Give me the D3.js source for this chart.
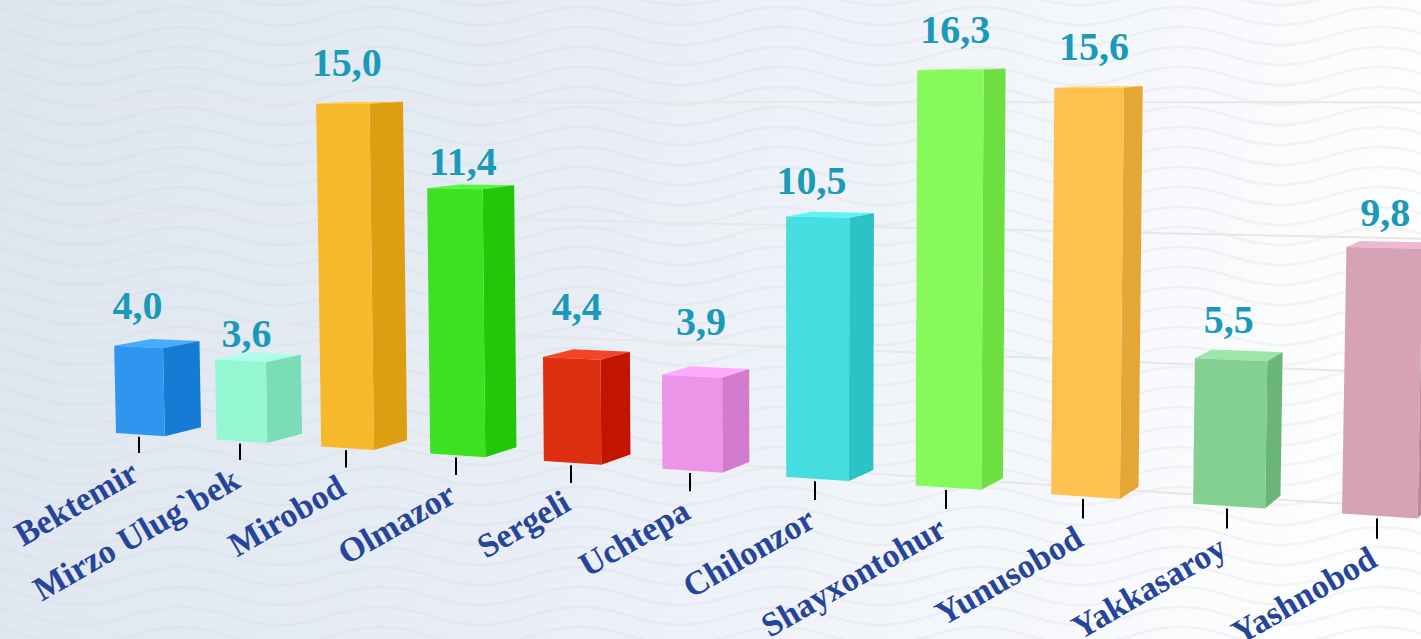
<!DOCTYPE html>
<html>
<head>
<meta charset="utf-8">
<script src="https://cdn.jsdelivr.net/npm/d3@7"></script>
<style>
  html, body { margin: 0; padding: 0; overflow: hidden; }
  svg { display: block; }
</style>
</head>
<body>
<script>
'use strict';

const categories = ["Bektemir", "Mirzo Ulug`bek", "Mirobod", "Olmazor", "Sergeli", "Uchtepa",
  "Chilonzor", "Shayxontohur", "Yunusobod", "Yakkasaroy", "Yashnobod"];
const values = [4.0, 3.6, 15.0, 11.4, 4.4, 3.9, 10.5, 16.3, 15.6, 5.5, 9.8];
const valueLabels = ["4,0", "3,6", "15,0", "11,4", "4,4", "3,9", "10,5", "16,3", "15,6", "5,5", "9,8"];
const gridTicks = [0, 5, 10, 15];
const barColors = ["#2e96ee", "#95f6d2", "#f7b92b", "#3de122", "#dc2f10", "#ec94e8",
  "#45dde0", "#88f95b", "#fec150", "#84d092", "#d6a3b6"];

const width = 1421, height = 639;

// the value labels sit at uneven distances over the bars in the original
const labelShift = [[-1, -8], [6, 6], [4, -8], [8, 6], [5, -18], [9, -21], [-6, -3], [5, -7], [5, -8], [-2, -7], [1, -2]];

const svg = d3.select("body").append("svg")
  .attr("width", width)
  .attr("height", height);

// background
const defs = svg.append("defs");
const grad = defs.append("linearGradient").attr("id", "bg")
  .attr("x1", "0").attr("y1", "0").attr("x2", "1").attr("y2", "0.1");
grad.append("stop").attr("offset", "0").attr("stop-color", "#dde5ee");
grad.append("stop").attr("offset", "0.45").attr("stop-color", "#e9eef6");
grad.append("stop").attr("offset", "1").attr("stop-color", "#fcfdfe");
svg.append("rect").attr("width", width).attr("height", height).attr("fill", "url(#bg)");

defs.append("filter").attr("id", "soft")
  .append("feGaussianBlur").attr("stdDeviation", 0.7);

// waves are fainter on the left of the picture
const waveGrad = defs.append("linearGradient").attr("id", "waveStroke")
  .attr("gradientUnits", "userSpaceOnUse")
  .attr("x1", 0).attr("y1", 0).attr("x2", width).attr("y2", 0);
waveGrad.append("stop").attr("offset", "0").attr("stop-color", "#8a8f9a").attr("stop-opacity", 0.045);
waveGrad.append("stop").attr("offset", "0.5").attr("stop-color", "#8a8f9a").attr("stop-opacity", 0.075);
waveGrad.append("stop").attr("offset", "1").attr("stop-color", "#8a8f9a").attr("stop-opacity", 0.085);

// wavy lines, same wave every 20px
const waves = svg.append("g")
  .attr("fill", "none")
  .attr("stroke", "url(#waveStroke)")
  .attr("stroke-width", 2.6)
  .attr("filter", "url(#soft)");
d3.range(-24, height + 40, 20).forEach((y0) => {
  let p = d3.path();
  p.moveTo(-220, y0 - 9);
  for (let x0 = -220; x0 < width; x0 += 200) {
    p.bezierCurveTo(x0 + 40, y0 - 9, x0 + 60, y0 + 9, x0 + 100, y0 + 9);
    p.bezierCurveTo(x0 + 140, y0 + 9, x0 + 160, y0 - 9, x0 + 200, y0 - 9);
  }
  waves.append("path").attr("d", p.toString());
});

// scales: band position along the floor, value up the bar
const xBand = d3.scaleBand()
  .domain(categories)
  .range([0, 10.49])
  .paddingInner(0.51);
const yValue = d3.scaleLinear()
  .domain([0, 20])
  .range([0, 1]);

// camera: front-left corner of first bar and three vanishing points
const origin = [116, 433];
const vpX = [-4913, 103], vpY = [800, 33000], vpZ = [1856, 20];
const wX = -0.0196, wY = -0.01335, wZ = 0.0217;

function project(bandPos, value, depth) {
  let a = bandPos * wX, b = yValue(value) * wY, c = depth * wZ;
  let w = 1 + a + b + c;
  return [
    (origin[0] + a * vpX[0] + b * vpY[0] + c * vpZ[0]) / w,
    (origin[1] + a * vpX[1] + b * vpY[1] + c * vpZ[1]) / w
  ];
}

const polyLine = d3.line();

// grid on the back wall
svg.append("g").selectAll("path")
  .data(gridTicks)
  .enter()
  .append("path")
    .attr("d", (t) => polyLine(d3.range(-0.5, 11.6, 0.5).map((b) => project(b, t, 0.7))))
    .attr("fill", "none")
    .attr("stroke", "#e7e7e5")
    .attr("stroke-width", 2);

// bars
const bw = xBand.bandwidth();
const bars = svg.append("g").selectAll("g")
  .data(categories)
  .enter()
  .append("g");

bars.append("path")
  .attr("d", (c, i) => {
    let x0 = xBand(c), v = values[i];
    return polyLine([project(x0, v, 0), project(x0 + bw, v, 0), project(x0 + bw, v, 1), project(x0, v, 1)]) + "Z";
  })
  .attr("fill", (c, i) => {
    let col = d3.rgb(barColors[i]);
    return d3.rgb(col.r + 24, col.g + 22, col.b + 24).formatHex();
  });

bars.append("path")
  .attr("d", (c, i) => {
    let x1 = xBand(c) + bw, v = values[i];
    return polyLine([project(x1, 0, 0), project(x1, v, 0), project(x1, v, 1), project(x1, 0, 1)]) + "Z";
  })
  .attr("fill", (c, i) => {
    let col = d3.rgb(barColors[i]);
    return d3.rgb(col.r - 26, col.g - 26, col.b - 26).formatHex();
  });

bars.append("path")
  .attr("d", (c, i) => {
    let x0 = xBand(c), v = values[i];
    return polyLine([project(x0, 0, 0), project(x0, v, 0), project(x0 + bw, v, 0), project(x0 + bw, 0, 0)]) + "Z";
  })
  .attr("fill", (c, i) => barColors[i]);

// tick under each bar
bars.append("path")
  .attr("d", (c) => {
    let xm = xBand(c) + bw / 2 - 0.015;
    let top = project(xm, -0.1, 0), bottom = project(xm, -0.85, 0);
    return polyLine([[Math.round(top[0]), top[1]], [Math.round(top[0]), bottom[1]]]);
  })
  .attr("stroke", "#000")
  .attr("stroke-width", 2)
  .attr("fill", "none");

// value labels
bars.append("text")
  .attr("x", (c, i) => project(xBand(c) + bw / 2, values[i], 0)[0] + labelShift[i][0])
  .attr("y", (c, i) => project(xBand(c) + bw / 2, values[i], 0)[1] - 20 + labelShift[i][1])
  .attr("text-anchor", "middle")
  .style("font-family", "'Liberation Serif'")
  .style("font-weight", "bold")
  .style("font-size", "40px")
  .attr("fill", "#1a9ab8")
  .text((c, i) => valueLabels[i]);

// category labels
bars.append("text")
  .attr("transform", (c) => {
    let p = project(xBand(c) + bw / 2, -0.85, 0);
    return "translate(" + p[0] + "," + (p[1] + 26) + ")rotate(-30)";
  })
  .attr("text-anchor", "end")
  .style("font-family", "'Liberation Serif'")
  .style("font-weight", "bold")
  .style("font-size", "34px")
  .attr("fill", "#26449a")
  .text((c) => c);
</script>
</body>
</html>
